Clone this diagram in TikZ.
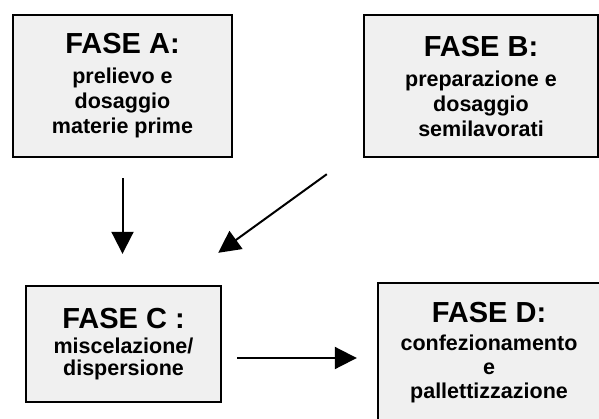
\documentclass[tikz,border=0pt]{standalone}
\usepackage{fontspec}
\setmainfont{Liberation Sans}
\usetikzlibrary{arrows.meta,calc}
\begin{document}
\begin{tikzpicture}[x=1pt,y=-1pt,
  phase/.style={draw=black, line width=2.4pt, fill=gray!12, align=center,
    inner sep=0pt, font=\fontsize{21.5}{25}\selectfont\bfseries},
  flow/.style={line width=2pt, -{Triangle[width=22pt,length=22pt]}}]
\useasboundingbox (0,0) rectangle (599,419);
\newcommand\phasetitle[2]{{\fontsize{29}{29}\selectfont #1}\\[#2]}

% the four production phases
\node[phase, minimum width=219pt, minimum height=142pt] (A) at (122.5,86)
  {\phasetitle{FASE A:}{5pt}prelievo e\\dosaggio\\materie prime};
\node[phase, minimum width=234pt, minimum height=142pt] (B) at (481,86)
  {\phasetitle{FASE B:}{5pt}preparazione e\\dosaggio\\semilavorati};
\node[phase, minimum width=195pt, minimum height=116pt,
  font=\fontsize{21.5}{22}\selectfont\bfseries] (C) at (123.5,344)
  {\phasetitle{FASE C :}{3pt}miscelazione/\\dispersione};
\node[phase, minimum width=222pt, minimum height=140pt,
  font=\fontsize{21.5}{24}\selectfont\bfseries] (D) at (489,353)
  {\phasetitle{FASE D:}{4pt}confezionamento\\e\\pallettizzazione};

% material flow between the phases
\draw[flow, shorten <=20pt, shorten >=31pt] (A.south) -- (A.south |- C.north);
\draw[flow] ($(B.south west)+(-36,16)$) -- ($(C.north east)+(-4,-32)$);
\draw[flow] ($(C.east)+(15,14)$) -- ($(D.west)+(-20,5)$);
\end{tikzpicture}
\end{document}
